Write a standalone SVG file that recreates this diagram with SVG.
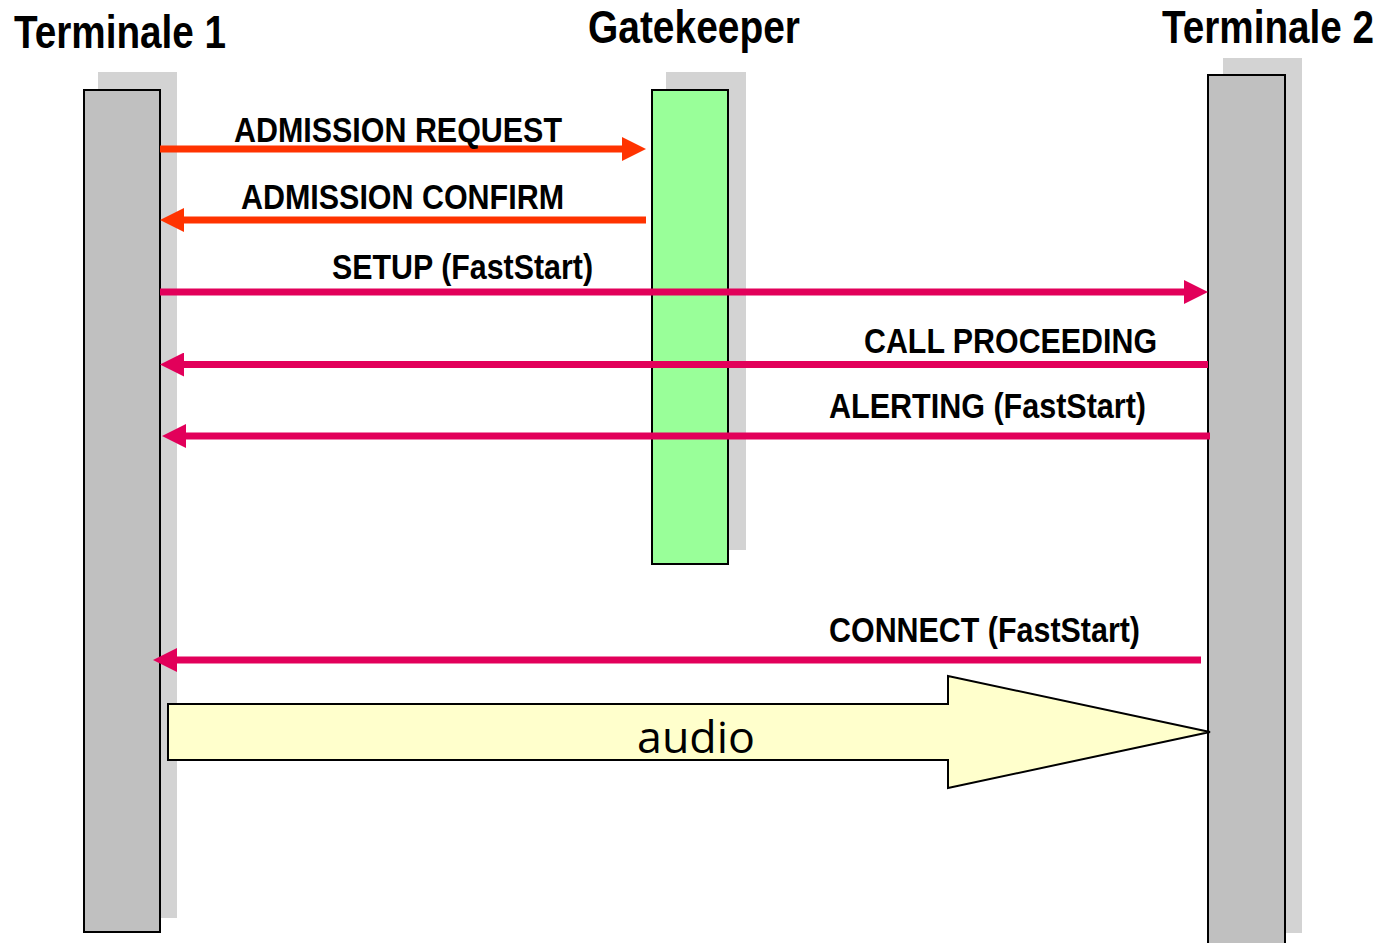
<svg xmlns="http://www.w3.org/2000/svg" width="1385" height="943" viewBox="0 0 1385 943">
  <style>
    .shadow { fill: #d3d3d3; }
    .bar { fill: #c0c0c0; stroke: #000; stroke-width: 2; }
    .gk { fill: #99ff99; stroke: #000; stroke-width: 2; }
    .title { font-family: "Liberation Sans Narrow", "Liberation Sans", Arial, sans-serif; font-weight: bold; font-size: 46px; fill: #000; }
    .msg { font-family: "Liberation Sans Narrow", "Liberation Sans", Arial, sans-serif; font-weight: bold; font-size: 35px; fill: #000; }
    .ras { stroke: #ff3300; stroke-width: 7; fill: none; }
    .q931 { stroke: #e2005a; stroke-width: 7; fill: none; }
    .media { fill: #ffffcc; stroke: #000; stroke-width: 2; stroke-linejoin: miter; }
    .media-text { font-family: "Open Sans", "Noto Sans", sans-serif; font-size: 44px; fill: #000; }
  </style>
  <defs>
    <marker id="head-ras" markerUnits="userSpaceOnUse" markerWidth="24" markerHeight="24" refX="4" refY="12" orient="auto" viewBox="0 0 24 24">
      <path d="M0,0 L24,12 L0,24 z" fill="#ff3300"/>
    </marker>
    <marker id="head-q931" markerUnits="userSpaceOnUse" markerWidth="24" markerHeight="24" refX="4" refY="12" orient="auto" viewBox="0 0 24 24">
      <path d="M0,0 L24,12 L0,24 z" fill="#e2005a"/>
    </marker>
  </defs>

  <rect width="1385" height="943" fill="#fff"/>

  <!-- Terminale 1 lifeline -->
  <g id="terminale1">
    <rect class="shadow" x="98" y="72" width="79" height="846"/>
    <rect class="bar" x="84" y="90" width="76" height="842"/>
    <text class="title" x="14" y="48" textLength="212" lengthAdjust="spacingAndGlyphs">Terminale 1</text>
  </g>

  <!-- Gatekeeper lifeline -->
  <g id="gatekeeper">
    <rect class="shadow" x="666" y="72" width="80" height="478"/>
    <rect class="gk" x="652" y="90" width="76" height="474"/>
    <text class="title" x="588" y="43" textLength="212" lengthAdjust="spacingAndGlyphs">Gatekeeper</text>
  </g>

  <!-- Terminale 2 lifeline -->
  <g id="terminale2">
    <rect class="shadow" x="1223" y="58" width="79" height="875"/>
    <rect class="bar" x="1208" y="75" width="77" height="880"/>
    <text class="title" x="1162" y="43" textLength="212" lengthAdjust="spacingAndGlyphs">Terminale 2</text>
  </g>

  <!-- Messages -->
  <g id="connectors">
    <line class="ras" x1="160" y1="149" x2="626" y2="149" marker-end="url(#head-ras)"/>
    <line class="ras" x1="646" y1="220" x2="180" y2="220" marker-end="url(#head-ras)"/>
    <line class="q931" x1="160" y1="292" x2="1188" y2="292" marker-end="url(#head-q931)"/>
    <line class="q931" x1="1208" y1="364.5" x2="180" y2="364.5" marker-end="url(#head-q931)"/>
    <line class="q931" x1="1210" y1="436" x2="182" y2="436" marker-end="url(#head-q931)"/>
    <line class="q931" x1="1201" y1="660" x2="173" y2="660" marker-end="url(#head-q931)"/>

    <text class="msg" x="234" y="142" textLength="328" lengthAdjust="spacingAndGlyphs">ADMISSION REQUEST</text>
    <text class="msg" x="241" y="208.5" textLength="323" lengthAdjust="spacingAndGlyphs">ADMISSION CONFIRM</text>
    <text class="msg" x="332" y="279" textLength="261" lengthAdjust="spacingAndGlyphs">SETUP (FastStart)</text>
    <text class="msg" x="864" y="352.5" textLength="293" lengthAdjust="spacingAndGlyphs">CALL PROCEEDING</text>
    <text class="msg" x="829" y="418" textLength="317" lengthAdjust="spacingAndGlyphs">ALERTING (FastStart)</text>
    <text class="msg" x="829" y="641.5" textLength="311" lengthAdjust="spacingAndGlyphs">CONNECT (FastStart)</text>
  </g>

  <!-- Media stream -->
  <g id="audio">
    <polygon class="media" points="168,704 948,704 948,676 1210,732 948,788 948,760 168,760"/>
    <text class="media-text" x="637" y="752.5" textLength="118" lengthAdjust="spacingAndGlyphs">audio</text>
  </g>
</svg>
